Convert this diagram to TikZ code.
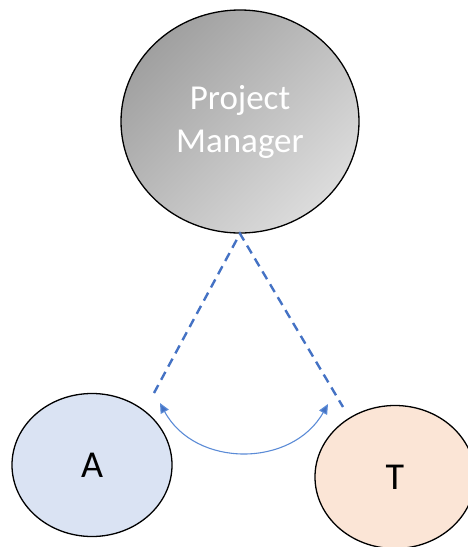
\documentclass[tikz,border=0pt]{standalone}
\usepackage{fontspec}
\setmainfont{Carlito}
\usetikzlibrary{arrows.meta}
\definecolor{pmdark}{HTML}{A0A0A0}
\definecolor{pmlight}{HTML}{DCDCDC}
\definecolor{afill}{HTML}{DAE3F3}
\definecolor{tfill}{HTML}{FBE5D6}
\definecolor{lineblue}{HTML}{4472C4}
\definecolor{arcblue}{HTML}{5B8BD6}
\tikzset{
  bubble/.style={ellipse, draw=black, line width=1.3pt, inner sep=0pt},
  dashlink/.style={draw=lineblue, line width=2.4pt, dash pattern=on 9pt off 6pt},
  arcarrow/.style={draw=arcblue, line width=1.1pt, {Triangle[length=10pt,width=9pt,fill=lineblue]}-{Triangle[length=10pt,width=9pt,fill=lineblue]}}
}
\usetikzlibrary{shapes.geometric}
\begin{document}
\begin{tikzpicture}[x=1pt,y=-1pt]
\useasboundingbox (0,0) rectangle (468,547);
\node[bubble, minimum width=238pt, minimum height=223pt, left color=pmdark, right color=pmlight, shading angle=45,
      text=white, align=center, font=\fontsize{35}{43}\selectfont] (pm) at (240,121.5) {Project\\Manager};
\node[bubble, minimum width=160pt, minimum height=143pt, fill=afill, font=\fontsize{38}{44}\selectfont] (a) at (92,465) {A};
\node[bubble, minimum width=160pt, minimum height=143pt, fill=tfill, font=\fontsize{38}{44}\selectfont] (t) at (395,477) {T};
\coordinate (al) at (154,393);
\coordinate (tr) at (343,407);
\coordinate (as) at (160,403);
\coordinate (ae) at (328,404);
\draw[dashlink] (al) -- (pm.south) -- (tr);
\draw[arcarrow] (as) .. controls (195,468) and (292,468) .. (ae);
\end{tikzpicture}
\end{document}
